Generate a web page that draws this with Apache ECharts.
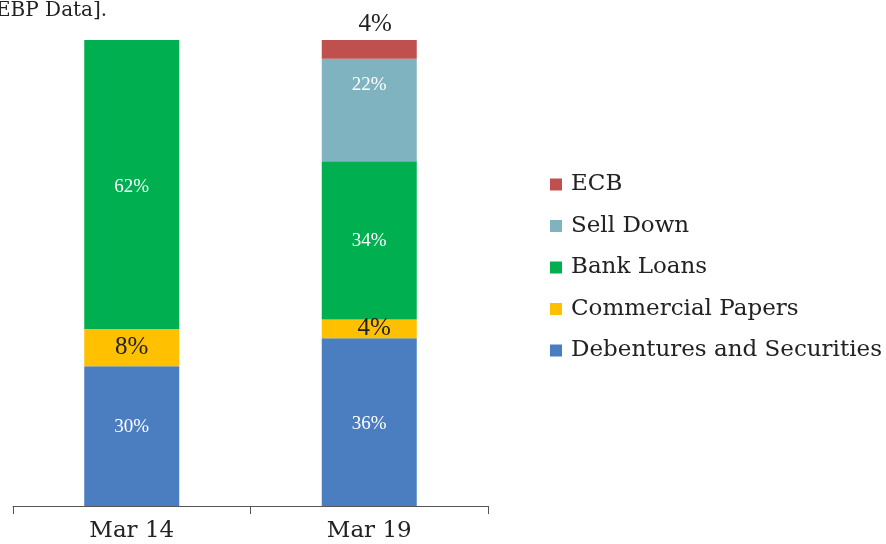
<!DOCTYPE html>
<html>
<head>
<meta charset="utf-8">
<script src="https://cdn.jsdelivr.net/npm/echarts@6/dist/echarts.min.js"></script>
<style>
  html, body { margin: 0; padding: 0; background: #fff; }
  #chart { width: 886px; height: 544px; }
</style>
</head>
<body>
<div id="chart"></div>
<script>
var chartDom = document.getElementById('chart');
var myChart = echarts.init(chartDom);

// categorias e valores (%)
var categories = ['Mar 14', 'Mar 19'];
var debentures = [30, 36];
var commercialPapers = [8, 4];
var bankLoans = [62, 34];
var sellDown = [0, 22];
var ecb = [0, 4];

var serif = '"Liberation Serif", serif';
var wideSerif = '"DejaVu Serif", serif';

function hideZero(p) {
  return p.value ? p.value + '%' : '';
}

var whiteLabel = {
  show: true,
  position: 'inside',
  color: '#fff',
  fontFamily: serif,
  fontSize: 19,
  formatter: hideZero
};
var darkLabel = {
  show: true,
  position: 'inside',
  color: '#222',
  fontFamily: serif,
  fontSize: 25,
  formatter: hideZero
};

// pequenos ajustes de posição dos rótulos, como no original
function withOffsets(data, offsets) {
  return data.map(function (v, i) {
    return offsets[i] ? { value: v, label: { offset: offsets[i] } } : v;
  });
}

function bar(name, data, color, label) {
  return {
    name: name,
    type: 'bar',
    stack: 'total',
    barWidth: '40%',
    data: data,
    itemStyle: { color: color },
    label: label
  };
}

var option = {
  animation: false,
  graphic: [{
    type: 'text',
    left: -4,
    top: 1,
    style: { text: 'EBP Data].', font: '20px ' + wideSerif, fill: '#222' }
  }],
  grid: { left: 13, right: 398, top: 40, bottom: 38 },
  legend: {
    orient: 'vertical',
    left: 545,
    top: 168,
    icon: 'rect',
    itemWidth: 12,
    itemHeight: 12,
    itemGap: 18.5,
    itemStyle: { borderWidth: 0 },
    textStyle: { fontFamily: wideSerif, fontSize: 23, color: '#222', padding: [0, 0, 0, 4] },
    data: ['ECB', 'Sell Down', 'Bank Loans', 'Commercial Papers', 'Debentures and Securities']
  },
  xAxis: {
    type: 'category',
    data: categories,
    axisLine: { lineStyle: { color: '#555', width: 1 } },
    axisTick: { show: true, length: 8, lineStyle: { color: '#555' } },
    axisLabel: { color: '#222', fontFamily: wideSerif, fontSize: 23, margin: 14 }
  },
  yAxis: {
    type: 'value',
    min: 0,
    max: 100,
    show: false,
    splitLine: { show: false }
  },
  series: [
    bar('Debentures and Securities', withOffsets(debentures, [[0, -9], [0, 2]]), '#4A7EC1', whiteLabel),
    bar('Commercial Papers', withOffsets(commercialPapers, [null, [5, 0]]), '#FFC000', darkLabel),
    bar('Bank Loans', withOffsets(bankLoans, [[0, 3], [0, 1]]), '#00B050', whiteLabel),
    bar('Sell Down', withOffsets(sellDown, [null, [0, -25]]), '#80B3C0', whiteLabel),
    bar('ECB', withOffsets(ecb, [null, [6, 0]]), '#C0504D',
      Object.assign({}, darkLabel, { position: 'top', distance: 3 }))
  ]
};

myChart.setOption(option);
</script>
</body>
</html>
